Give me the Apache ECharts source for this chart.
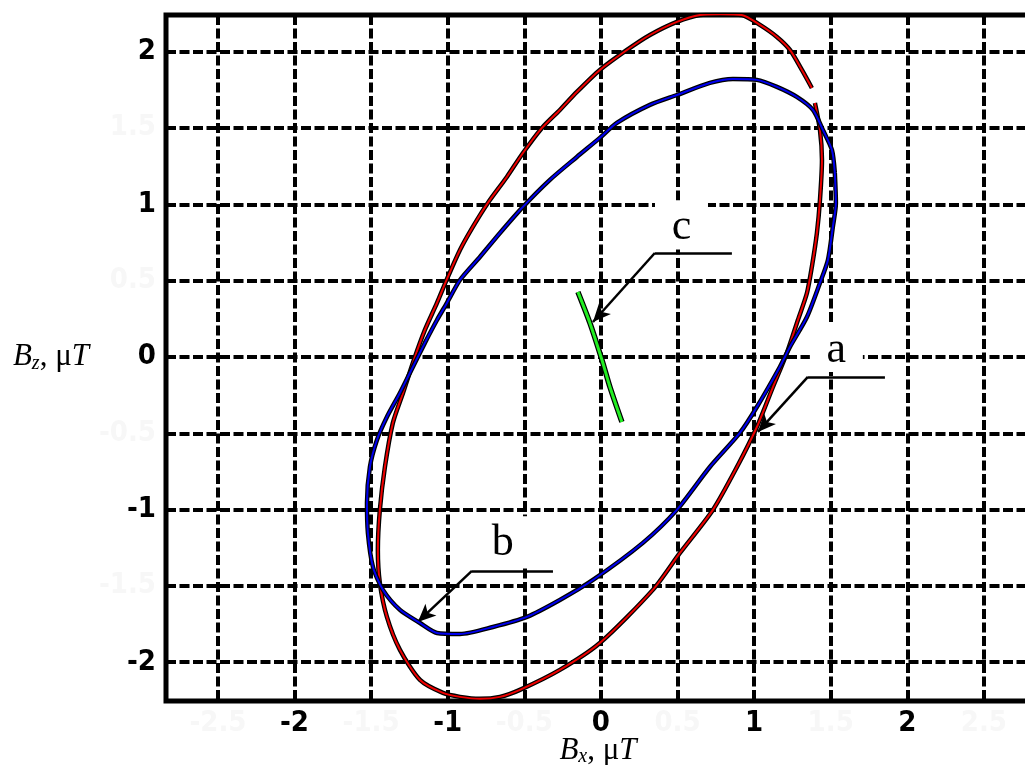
<!DOCTYPE html>
<html>
<head>
<meta charset="utf-8">
<script src="https://cdn.jsdelivr.net/npm/echarts@6/dist/echarts.min.js"></script>
<style>
html, body { margin: 0; padding: 0; background: #fff; }
#main { width: 1025px; height: 765px; }
</style>
</head>
<body>
<div id="main"></div>
<script>
// tick values (integer ones bold black, half ones nearly invisible)
const xTicks = [-2.5, -2, -1.5, -1, -0.5, 0, 0.5, 1, 1.5, 2, 2.5];
const yTicks = [-2, -1.5, -1, -0.5, 0, 0.5, 1, 1.5, 2];

// curve a (red), open near the top right
const curveA = [
  [1.377, 1.762], [1.312, 1.880], [1.234, 2.011], [1.149, 2.096], [1.038, 2.175],
  [0.920, 2.240], [0.777, 2.245], [0.646, 2.240], [0.496, 2.195], [0.320, 2.109],
  [0.170, 2.011], [-0.007, 1.880], [-0.157, 1.736], [-0.268, 1.618], [-0.385, 1.500],
  [-0.509, 1.336], [-0.614, 1.179], [-0.738, 1.009], [-0.836, 0.852], [-0.920, 0.701],
  [-0.999, 0.524], [-1.070, 0.354], [-1.149, 0.177], [-1.221, -0.020], [-1.292, -0.236],
  [-1.358, -0.432], [-1.410, -0.721], [-1.443, -1.002], [-1.456, -1.264], [-1.443, -1.481],
  [-1.397, -1.703], [-1.312, -1.919], [-1.181, -2.116], [-1.031, -2.201], [-0.920, -2.227],
  [-0.790, -2.240], [-0.659, -2.227], [-0.529, -2.181], [-0.268, -2.050], [-0.007, -1.874],
  [0.339, -1.526], [0.516, -1.284], [0.731, -1.002], [0.888, -0.721], [1.018, -0.459],
  [1.123, -0.197], [1.214, 0.026], [1.286, 0.242], [1.345, 0.419], [1.377, 0.590],
  [1.410, 0.812], [1.430, 1.029], [1.443, 1.291], [1.430, 1.487], [1.397, 1.664]
];

// curve b (blue), closed
const curveB = [
  [1.527, 1.205], [1.508, 1.356], [1.449, 1.487], [1.384, 1.618], [1.279, 1.703],
  [1.149, 1.769], [1.018, 1.815], [0.862, 1.821], [0.711, 1.795], [0.496, 1.716],
  [0.320, 1.651], [0.104, 1.533], [-0.007, 1.435], [-0.157, 1.310], [-0.333, 1.160],
  [-0.509, 0.983], [-0.659, 0.812], [-0.790, 0.655], [-0.920, 0.504], [-1.005, 0.354],
  [-1.070, 0.242], [-1.149, 0.092], [-1.247, -0.105], [-1.312, -0.236], [-1.397, -0.393],
  [-1.462, -0.544], [-1.508, -0.721], [-1.527, -0.956], [-1.521, -1.153], [-1.488, -1.376],
  [-1.423, -1.526], [-1.312, -1.657], [-1.181, -1.743], [-1.070, -1.808], [-0.920, -1.815],
  [-0.705, -1.769], [-0.483, -1.703], [-0.268, -1.592], [-0.052, -1.461], [0.274, -1.218],
  [0.496, -1.002], [0.711, -0.721], [0.907, -0.498], [1.018, -0.328], [1.168, -0.066],
  [1.234, 0.066], [1.345, 0.262], [1.430, 0.485], [1.482, 0.635], [1.514, 0.852],
  [1.534, 1.009], [1.527, 1.205]
];

// curve c (green), short segment near the origin
const curveC = [
  [-0.150, 0.426], [-0.072, 0.223], [0.007, -0.020], [0.059, -0.197], [0.137, -0.426]
];

// annotation letters: [text, x, y]
const labels = [['a', 1.537, 0.062], ['b', -0.640, -1.205], ['c', 0.526, 0.865]];
// leader lines: [x end, y, x knee, y, x tip, y tip]
const leaders = [
  [1.854, -0.131, 1.351, -0.131, 1.025, -0.491],
  [-0.313, -1.402, -0.842, -1.402, -1.195, -1.736],
  [0.855, 0.681, 0.352, 0.681, -0.052, 0.229]
];

const chart = echarts.init(document.getElementById('main'));

const tickFont = '"Liberation Sans Narrow", "DejaVu Sans Condensed", sans-serif';
const labelColor = (v) => (Number(v) % 1 === 0 ? '#000' : '#f7f7f7');
const gridLine = { color: '#000', width: 4, type: [10, 3.5] };

// axis title text, B italic with a subscript
const titleRich = {
  i: { fontFamily: 'Liberation Serif', fontStyle: 'italic', fontSize: 31 },
  r: { fontFamily: 'Liberation Serif', fontSize: 31 },
  s: { fontFamily: 'Liberation Serif', fontStyle: 'italic', fontSize: 20, padding: [13, 0, 0, 0] }
};

function curveSeries(data, color, outerW, innerW, z) {
  return [
    { type: 'line', data: data, symbol: 'none', smooth: 0.25, silent: true, z: z,
      lineStyle: { color: '#000', width: outerW } },
    { type: 'line', data: data, symbol: 'none', smooth: 0.25, silent: true, z: z + 1,
      lineStyle: { color: color, width: innerW } }
  ];
}

const markLines = [];
leaders.forEach((l) => {
  markLines.push([{ coord: [l[0], l[1]], symbol: 'none' }, { coord: [l[2], l[3]], symbol: 'none' }]);
  markLines.push([{ coord: [l[2], l[3]], symbol: 'none' }, { coord: [l[4], l[5]], symbol: 'arrow' }]);
});

const option = {
  backgroundColor: '#fff',
  animation: false,
  grid: {
    left: 166, top: 15, width: 900, height: 686,
    outerBoundsMode: 'none', containLabel: false,
    show: true, borderColor: '#000', borderWidth: 5, backgroundColor: '#fff'
  },
  xAxis: {
    type: 'value', min: -2.839, max: 3.036,
    axisLine: { show: false },
    axisTick: { show: false, customValues: xTicks },
    axisLabel: {
      customValues: xTicks, margin: 8,
      fontFamily: tickFont, fontWeight: 'bold', fontSize: 29, color: labelColor
    },
    splitLine: { show: true, lineStyle: gridLine }
  },
  yAxis: {
    type: 'value', min: -2.254, max: 2.240,
    axisLine: { show: false },
    axisTick: { show: false, customValues: yTicks },
    axisLabel: {
      customValues: yTicks, margin: 10,
      fontFamily: tickFont, fontWeight: 'bold', fontSize: 29, color: labelColor
    },
    splitLine: { show: true, lineStyle: gridLine }
  },
  graphic: [
    {
      type: 'text', x: 89, y: 357, z: 10,
      style: {
        text: '{i|B}{s|z}{r|, μ}{i|T}', align: 'right', verticalAlign: 'middle', fill: '#000',
        rich: titleRich
      }
    },
    {
      type: 'text', x: 598, y: 734, z: 10,
      style: {
        text: '{i|B}{s|x}{r|, μ}{i|T}', align: 'center', verticalAlign: 'top', fill: '#000',
        rich: titleRich
      }
    }
  ],
  series: [
    ...curveSeries(curveA, '#ee0000', 4.5, 2, 2),
    ...curveSeries(curveB, '#0000ee', 4.5, 2, 4),
    ...curveSeries(curveC, '#22ee22', 5.5, 3, 6),
    {
      type: 'line', data: [], z: 8, silent: true,
      markLine: {
        silent: true, animation: false, symbolSize: [12, 18],
        label: { show: false },
        lineStyle: { color: '#000', width: 2.5, type: 'solid' },
        data: markLines
      },
      markPoint: {
        silent: true, animation: false,
        symbol: 'rect', symbolSize: [53, 49],
        itemStyle: { color: '#fff' },
        label: {
          show: true, position: 'inside', offset: [0, 3], formatter: '{b}',
          fontFamily: 'Liberation Serif', fontSize: 44, color: '#000'
        },
        data: labels.map((d) => ({ name: d[0], coord: [d[1], d[2]] }))
      }
    }
  ]
};

chart.setOption(option);
</script>
</body>
</html>
